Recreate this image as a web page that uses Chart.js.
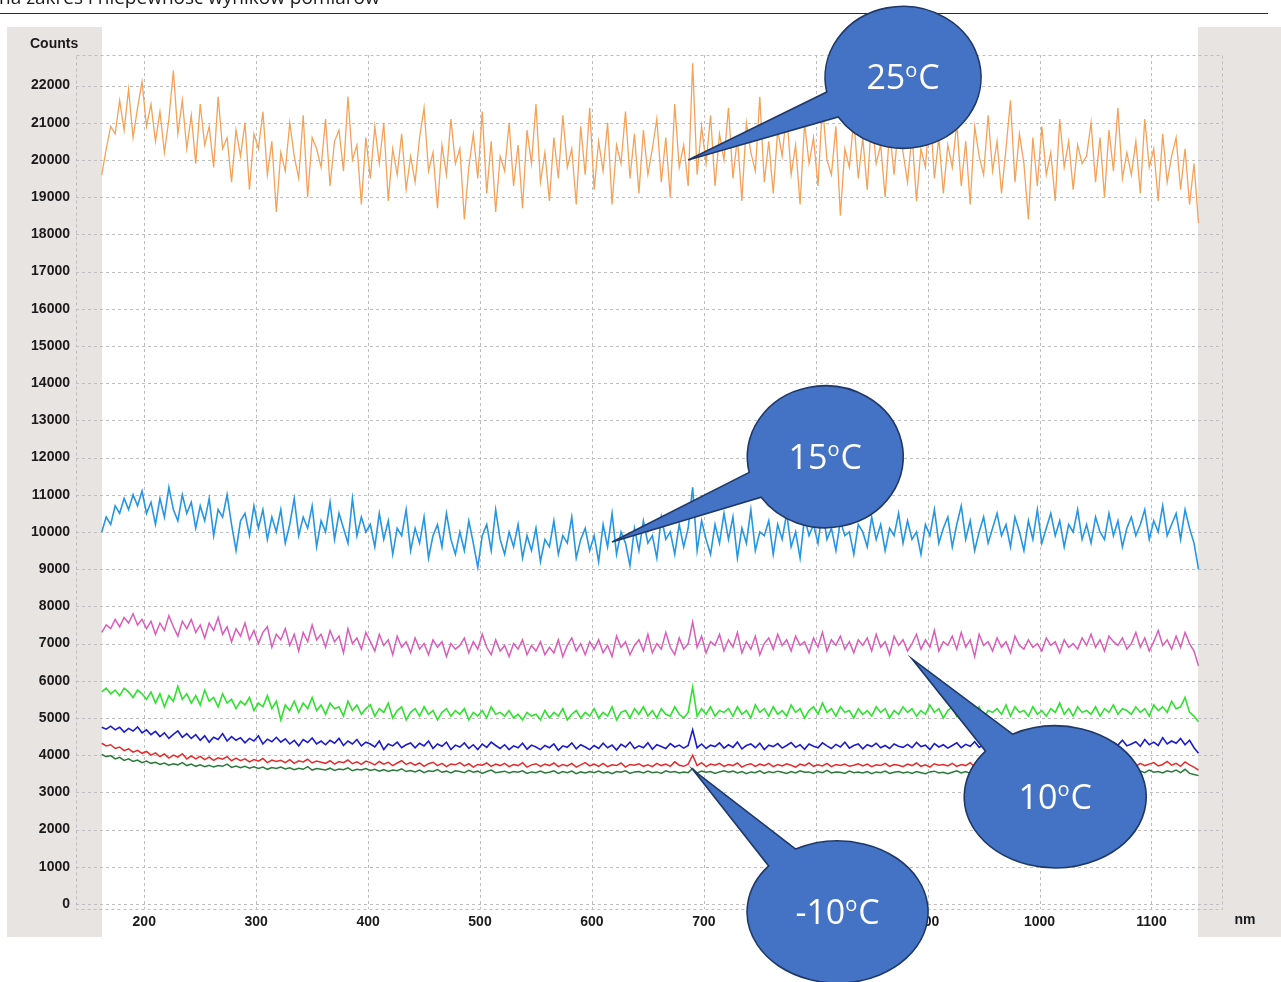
<!DOCTYPE html>
<html>
<head>
<meta charset="utf-8">
<script src="https://cdn.jsdelivr.net/npm/chart.js@4.4.1/dist/chart.umd.min.js"></script>
<style>
  html, body { margin: 0; padding: 0; background: #ffffff; overflow: hidden; }
  #wrap { position: relative; width: 1281px; height: 982px; }
</style>
</head>
<body>
<div id="wrap"><canvas id="c" width="1281" height="982"></canvas></div>
<script>
// Axis ticks
const xTicks = [200, 300, 400, 500, 600, 700, 800, 900, 1000, 1100];
const yTicks = [0, 1000, 2000, 3000, 4000, 5000, 6000, 7000, 8000, 9000, 10000,
  11000, 12000, 13000, 14000, 15000, 16000, 17000, 18000, 19000, 20000, 21000, 22000];

// Spectrometer sampling grid: first wavelength and spacing (nm)
const startNm = 162;
const stepNm = 4;

// Dark counts per wavelength sample, one array per detector temperature
const counts25C = [
  19600, 20300, 20900, 20700, 21600, 20800, 21900, 20600, 21400, 22100,
  20900, 21500, 20500, 21300, 20200, 21100, 22400, 20700, 21600, 20300,
  21200, 19900, 21500, 20400, 20900, 19800, 21700, 20300, 20600, 19400,
  20800, 20100, 21000, 19200, 20700, 20300, 21300, 19600, 20500, 18600,
  20200, 19700, 21000, 20100, 19500, 21200, 19000, 20600, 20300, 19800,
  21100, 19300, 20500, 20800, 19700, 21700, 20000, 20400, 18800, 20600,
  19500, 20900, 19900, 21000, 18900, 20300, 19600, 20700, 19200, 20100,
  19400, 20600, 21400, 19700, 20200, 18700, 20400, 19600, 21100, 19900,
  20300, 18400, 19800, 20700, 19500, 21300, 19100, 20500, 18600, 20100,
  19700, 21000, 19300, 20400, 18700, 20800, 19900, 21500, 19400, 20200,
  18900, 20600, 19500, 21200, 19800, 20300, 18800, 20900, 19600, 21400,
  19200, 20500, 19700, 21000, 18800, 20400, 19900, 21300, 19500, 20700,
  19100, 20800, 19600, 20300, 21100, 19400, 20600, 19000, 21500, 19800,
  20400, 19300, 22600, 19600, 20900, 19900, 21200, 19300, 20700, 20000,
  21400, 19500, 20600, 18900, 21000, 20200, 19700, 21700, 19400, 20500,
  19100, 20800, 20100, 21300, 19600, 20400, 18800, 21000, 19900, 20600,
  19300, 21500, 20000, 19600, 20900, 18500, 20300, 19800, 21100, 19500,
  20600, 19200, 21200, 19900, 20400, 19000, 20800, 19600, 21000, 20200,
  19400, 20700, 18900, 20300, 19800, 21400, 19500, 20600, 19100, 20400,
  19800, 21000, 19300, 20500, 18800, 20900, 20100, 19600, 21200, 19700,
  20500, 19100, 20300, 21600, 19400, 20700, 19900, 18400, 20600, 19300,
  20900, 19600, 20200, 18900, 21100, 19800, 20500, 19200, 20400, 19900,
  20100, 21000, 19400, 20600, 19000, 20800, 19700, 21400, 19500, 20200,
  19600, 20500, 19100, 21100, 19800, 20300, 18900, 20700, 19400, 20100,
  20600, 19200, 20300, 18800, 19900, 18300
];

const counts15C = [
  10000, 10400, 10200, 10700, 10500, 10900, 10600, 11000, 10700, 11100,
  10500, 10800, 10200, 10900, 10400, 11200, 10600, 10300, 11000, 10500,
  10800, 10100, 10700, 10300, 10900, 9900, 10600, 10400, 11000, 10200,
  9500, 10300, 10500, 9900, 10700, 10100, 10600, 9800, 10400, 10000,
  10600, 9700, 10200, 10900, 9900, 10400, 10100, 10700, 9600, 10300,
  10000, 10800, 9800, 10500, 10100, 9700, 10900, 9900, 10400, 10000,
  10200, 9600, 10500, 9800, 10300, 9400, 10100, 9900, 10600, 9500,
  10100, 9700, 10400, 9300, 9900, 10200, 9600, 10500, 9800, 9400,
  10000, 9500, 10300, 9700, 9050, 9900, 10200, 9500, 10600, 9800,
  9400, 10000, 9600, 10200, 9300, 9900, 9500, 10100, 9200, 9800,
  9600, 10300, 9400, 9900, 9700, 10400, 9300, 9800, 10100, 9500,
  9900, 9200, 10200, 9600, 10500, 9400, 10000, 9700, 9100, 10100,
  9500, 10300, 9700, 9900, 9300, 10400, 9800, 10000, 9400, 10200,
  9600, 10100, 11200, 9500, 10300, 9800, 9400, 10200, 9700, 10500,
  9800, 10400, 9300, 10100, 9700, 10600, 9500, 10000, 9900, 10300,
  9400, 10200, 9800, 10500, 9600, 10000, 9300, 10400, 9900, 10200,
  9700, 10600, 9800, 10100, 9500, 10300, 9900, 10000, 9400, 10200,
  10000, 9600, 10400, 9800, 10200, 9500, 10100, 9900, 10500, 9700,
  10300, 9800, 10000, 9400, 10200, 9900, 10600, 9700, 10100, 10400,
  9600, 10200, 10700, 9800, 10300, 9500, 10000, 10400, 9700, 10100,
  10500, 9900, 10200, 9600, 10400, 10000, 9500, 10300, 9800, 10600,
  9700, 10100, 10500, 9900, 10300, 9600, 10200, 10000, 10600, 9800,
  10200, 9700, 10400, 10000, 9800, 10500, 9900, 10300, 9600, 10100,
  10400, 9900, 10200, 10600, 9800, 10300, 10000, 10700, 9900, 10200,
  10500, 9800, 10600, 10100, 9700, 9000
];

const counts10C = [
  7300, 7500, 7400, 7650, 7450, 7700, 7550, 7800, 7500, 7650,
  7400, 7600, 7250, 7550, 7350, 7750, 7450, 7200, 7600, 7400,
  7650, 7300, 7500, 7150, 7550, 7350, 7700, 7250, 7450, 7050,
  7400, 7200, 7550, 7100, 7350, 7000, 7300, 7450, 6900, 7250,
  7100, 7400, 6950, 7250, 6800, 7300, 7050, 7500, 7100, 7250,
  6900, 7350, 7050, 7200, 6750, 7400, 7000, 7150, 6850, 7300,
  7050, 6800, 7250, 6950, 7100, 6700, 7200, 6900, 7050, 6750,
  7150, 6850, 7000, 6700, 7100, 6900, 7050, 6650, 7000, 6850,
  6950, 7150, 6750, 7050, 6850, 7250, 6900, 6700, 7100, 6800,
  6950, 6650, 7000, 6850, 7100, 6700, 6950, 6800, 7050, 6700,
  6900, 6750, 7100, 6650, 6950, 7150, 6800, 7000, 6700, 7050,
  6850, 7100, 6750, 6950, 6650, 7200, 6900, 7050, 6700, 6950,
  7100, 6800, 7250, 6750, 7000, 6850, 7300, 6900, 6700, 7150,
  6850, 7000, 7580, 6900, 7200, 6750, 7050, 6950, 7250, 6800,
  7100, 6900, 7300, 6750, 7050, 6850, 7200, 6700, 7000, 7150,
  6850, 7250, 6950, 7100, 6800, 7200, 6950, 7050, 6750, 7150,
  6900, 7300, 6800, 7100, 6950, 7200, 6850, 7050, 6750, 7100,
  6950, 7150, 6800, 7250, 6900, 7050, 6700, 7200, 6950, 7100,
  6800, 7000, 7250, 6850, 7100, 6900, 7350, 6800, 7050, 6950,
  7200, 6850, 7300, 6900, 7100, 6650, 7250, 6950, 7050, 6800,
  7150, 6900, 7050, 6750, 7200, 6950, 6850, 7100, 6900, 7000,
  6800, 7150, 6950, 7050, 6750, 7100, 6900, 7000, 6850, 7150,
  6950, 7250, 6900, 7100, 6800, 7200, 7050, 6950, 7150, 6850,
  7000, 7300, 6900, 7150, 6800, 7050, 7350, 6950, 7100, 6850,
  7200, 6900, 7300, 7000, 6800, 6400
];

const countsGreen = [
  5700, 5800, 5650, 5750, 5600, 5800, 5700, 5550, 5750, 5650,
  5500, 5700, 5400, 5650, 5300, 5600, 5450, 5850, 5500, 5650,
  5400, 5600, 5350, 5750, 5450, 5550, 5300, 5650, 5400, 5500,
  5250, 5450, 5350, 5550, 5200, 5400, 5300, 5600, 5250, 5450,
  4950, 5350, 5200, 5450, 5150, 5400, 5250, 5550, 5200, 5350,
  5100, 5400, 5250, 5300, 5050, 5450, 5200, 5350, 5100, 5250,
  5350, 5050, 5250, 5150, 5400, 5000, 5200, 5300, 4950, 5150,
  5250, 5050, 5300, 5100, 5200, 4950, 5150, 5250, 5050, 5200,
  5100, 5250, 4950, 5150, 5050, 5200, 5000, 5300, 5100, 5150,
  5050, 5200, 5000, 5100, 4950, 5150, 5050, 5100, 4950, 5200,
  5000, 5150, 5050, 5250, 4950, 5100, 5200, 5000, 5150, 5050,
  5250, 5000, 5150, 5050, 5300, 4950, 5150, 5200, 5000, 5250,
  5100, 5300, 5050, 5200, 5000, 5250, 5100, 5050, 5300, 5100,
  5000, 5150, 5830, 5050, 5250, 5100, 5300, 5050, 5200, 5150,
  5250, 5050, 5300, 5100, 5200, 5000, 5350, 5150, 5250, 5050,
  5300, 5100, 5200, 5050, 5350, 5150, 5250, 5000, 5200, 5300,
  5100, 5400, 5150, 5250, 5050, 5300, 5150, 5200, 5000, 5250,
  5100, 5200, 5050, 5300, 5150, 5250, 5000, 5200, 5100, 5300,
  5150, 5250, 5050, 5200, 5100, 5350, 5150, 5250, 5000, 5200,
  5300, 5050, 5400, 5150, 5250, 5100, 5300, 5000, 5200, 5150,
  5250, 5100, 5350, 5050, 5300, 5150, 5200, 5050, 5300, 5100,
  5200, 5050, 5250, 5150, 5400, 5100, 5250, 5050, 5300, 5150,
  5200, 5100, 5300, 5050, 5250, 5150, 5350, 5100, 5250, 5200,
  5100, 5300, 5150, 5250, 5050, 5350, 5200, 5300, 5150, 5450,
  5250, 5300, 5550, 5150, 5050, 4900
];

const countsBlue = [
  4750, 4700, 4780, 4680, 4750, 4620, 4720, 4650, 4760, 4600,
  4680, 4550, 4640, 4500, 4600, 4450, 4560, 4650, 4480, 4580,
  4450, 4550, 4400, 4520, 4350, 4480, 4420, 4580, 4380, 4500,
  4400, 4470, 4330, 4450, 4380, 4520, 4300, 4430, 4360, 4480,
  4350, 4440, 4300, 4400, 4250, 4420, 4340, 4460, 4300, 4380,
  4280, 4400, 4320, 4450, 4260, 4380, 4300, 4420, 4250, 4350,
  4300, 4220, 4380, 4150, 4300, 4250, 4350, 4200, 4280, 4330,
  4200, 4320, 4250, 4380, 4180, 4300, 4240, 4350, 4150, 4270,
  4220, 4330, 4180, 4280, 4150, 4300, 4210, 4350, 4260, 4180,
  4280, 4150, 4250, 4200, 4320, 4160, 4270, 4220, 4150, 4260,
  4200, 4300, 4130, 4250, 4210, 4330, 4170, 4280, 4220, 4150,
  4260, 4180, 4320, 4200, 4270, 4140, 4290, 4220, 4350, 4180,
  4250, 4200, 4330, 4160, 4280, 4230, 4180, 4310, 4220, 4270,
  4190, 4260, 4680, 4200, 4300, 4180, 4270, 4230, 4330, 4190,
  4280, 4210, 4350, 4170, 4260, 4300, 4200, 4320, 4150, 4270,
  4230, 4310, 4190, 4260, 4340, 4210, 4280, 4160, 4300, 4240,
  4200, 4330, 4250, 4180, 4290, 4220, 4350, 4190, 4260, 4300,
  4170, 4280, 4230, 4320, 4200, 4260, 4180, 4300, 4240, 4210,
  4290, 4200, 4340, 4230, 4270, 4150, 4310, 4220, 4280, 4190,
  4260, 4330, 4200, 4290, 4240, 4360, 4210, 4280, 4230, 4310,
  4200, 4270, 4340, 4220, 4300, 4180, 4260, 4320, 4240, 4290,
  4210, 4350, 4250, 4300, 4190, 4280, 4330, 4230, 4290, 4260,
  4320, 4220, 4380, 4260, 4300, 4200, 4340, 4270, 4400, 4250,
  4300, 4360, 4240, 4420, 4280, 4350, 4260, 4470, 4300, 4380,
  4320, 4450, 4280, 4400, 4200, 4050
];

const countsRed = [
  4320, 4250, 4280, 4180, 4220, 4120, 4170, 4080, 4130, 4050,
  4100, 4000, 4060, 3960, 4030, 3920, 4000, 3950, 4040, 3900,
  3980, 3900, 3970, 3880, 3950, 3860, 3930, 3890, 3960, 3850,
  3920, 3850, 3900, 3820, 3880, 3840, 3910, 3800, 3870, 3830,
  3860, 3800, 3880, 3780, 3850, 3820, 3890, 3790, 3840, 3810,
  3780, 3850, 3760, 3830, 3800, 3870, 3770, 3820, 3750, 3840,
  3800, 3740, 3830, 3760, 3810, 3720, 3790, 3850, 3750, 3800,
  3730, 3790, 3700, 3770, 3810, 3720, 3780, 3690, 3760, 3740,
  3800, 3710, 3770, 3680, 3750, 3730, 3790, 3700, 3760, 3720,
  3780, 3690, 3750, 3720, 3800, 3680, 3740, 3770, 3700, 3760,
  3720, 3790, 3690, 3750, 3710, 3780, 3680, 3740, 3800, 3710,
  3760, 3700, 3780, 3690, 3740, 3720, 3790, 3680, 3750, 3730,
  3770, 3700, 3740, 3690, 3780, 3720, 3760, 3700, 3820, 3730,
  3700, 3760, 4000, 3720, 3800, 3690, 3760, 3730, 3780, 3700,
  3750, 3720, 3790, 3680, 3740, 3770, 3700, 3760, 3720, 3780,
  3690, 3750, 3710, 3770, 3730, 3680, 3760, 3720, 3790, 3700,
  3740, 3710, 3780, 3690, 3750, 3720, 3760, 3700, 3730, 3770,
  3710, 3760, 3690, 3740, 3720, 3780, 3700, 3750, 3730, 3690,
  3760, 3720, 3790, 3700, 3740, 3680, 3770, 3730, 3750, 3710,
  3780, 3700, 3750, 3720, 3800, 3690, 3740, 3760, 3710, 3770,
  3720, 3760, 3690, 3740, 3780, 3710, 3750, 3700, 3770, 3730,
  3690, 3750, 3720, 3800, 3700, 3760, 3730, 3780, 3710, 3740,
  3770, 3700, 3750, 3730, 3790, 3710, 3760, 3690, 3740, 3720,
  3750, 3700, 3780, 3720, 3760, 3800, 3710, 3750, 3830, 3730,
  3780, 3700, 3820, 3740, 3680, 3600
];

const countsMinus10C = [
  4020, 3960, 3990, 3900, 3940, 3860, 3900, 3830, 3870, 3800,
  3840, 3780, 3810, 3750, 3790, 3730, 3770, 3740, 3800, 3720,
  3760, 3700, 3740, 3690, 3730, 3680, 3720, 3700, 3760, 3670,
  3710, 3660, 3700, 3650, 3690, 3640, 3680, 3620, 3670, 3640,
  3680, 3630, 3660, 3610, 3650, 3620, 3690, 3600, 3640, 3620,
  3600, 3650, 3590, 3630, 3610, 3660, 3580, 3620, 3600, 3640,
  3590, 3620, 3570, 3610, 3560, 3600, 3580, 3630, 3560, 3590,
  3550, 3600, 3530, 3580, 3560, 3610, 3540, 3570, 3520, 3580,
  3560, 3530, 3590, 3540, 3570, 3510, 3560, 3600, 3530, 3550,
  3570, 3520, 3560, 3540, 3580, 3510, 3550, 3530, 3570, 3520,
  3540, 3580, 3510, 3560, 3530, 3570, 3500, 3550, 3520, 3560,
  3530, 3570, 3520, 3550, 3500, 3560, 3540, 3580, 3510, 3550,
  3560, 3520, 3570, 3530, 3550, 3510, 3580, 3540, 3560, 3520,
  3550, 3530, 3640, 3520, 3570, 3540, 3560, 3510, 3550, 3580,
  3540, 3570, 3520, 3560, 3500, 3550, 3530, 3580, 3510, 3560,
  3530, 3570, 3540, 3510, 3560, 3520, 3580, 3540, 3550, 3510,
  3560, 3530, 3590, 3520, 3550, 3540, 3510, 3570, 3530, 3550,
  3520, 3560, 3500, 3550, 3530, 3570, 3510, 3540, 3560, 3520,
  3550, 3510, 3560, 3530, 3500, 3550, 3570, 3520, 3540, 3500,
  3540, 3580, 3520, 3560, 3510, 3550, 3530, 3570, 3500, 3540,
  3520, 3560, 3500, 3550, 3530, 3580, 3510, 3540, 3560, 3520,
  3550, 3510, 3570, 3530, 3560, 3500, 3540, 3580, 3520, 3550,
  3530, 3570, 3510, 3560, 3540, 3500, 3550, 3590, 3520, 3560,
  3540, 3510, 3570, 3530, 3600, 3540, 3560, 3520, 3580, 3550,
  3600, 3530, 3620, 3510, 3480, 3450
];

// Callout bubbles: tip and centre in data units (nm, counts)
const callouts = [
  { text: '25', tip: [686, 20000], center: [878, 22220], rx: 78, ry: 71 },
  { text: '15', tip: [618, 9730], center: [808.5, 12020], rx: 78, ry: 71 },
  { text: '10', tip: [886, 6590], center: [1014, 2880], rx: 91, ry: 71 },
  { text: '-10', tip: [690.5, 3600], center: [819.5, -215], rx: 90.5, ry: 71 }
];

const TICK_FONT = '"Liberation Sans", Arial, sans-serif';

function toPoints(arr) {
  return arr.map((v, i) => ({ x: startNm + i * stepNm, y: v }));
}

const seriesDefs = [
  { label: '25 °C', data: counts25C, color: '#F5A257', width: 1.3 },
  { label: '15 °C', data: counts15C, color: '#2597E2', width: 1.6 },
  { label: '10 °C', data: counts10C, color: '#DB5CBC', width: 1.5 },
  { label: 'green', data: countsGreen, color: '#2FE22F', width: 1.6 },
  { label: 'blue', data: countsBlue, color: '#1C1CCF', width: 1.6 },
  { label: 'red', data: countsRed, color: '#E52B2B', width: 1.5 },
  { label: '-10 °C', data: countsMinus10C, color: '#2C7A3A', width: 1.5 }
];

const lastNm = startNm + (counts25C.length - 1) * stepNm;

const backdrop = {
  id: 'backdrop',
  beforeDraw(chart) {
    const { ctx, scales: { x } } = chart;
    ctx.save();
    ctx.fillStyle = '#ffffff';
    ctx.fillRect(0, 0, chart.width, chart.height);
    // running page header and rule
    ctx.fillStyle = '#1a1a1a';
    ctx.font = '19px "Open Sans", "Liberation Sans", sans-serif';
    ctx.textBaseline = 'alphabetic';
    ctx.textAlign = 'left';
    ctx.fillText('na zakres i niepewność wyników pomiarów', -1, 4);
    ctx.strokeStyle = '#2a2a2a';
    ctx.lineWidth = 1.2;
    ctx.beginPath();
    ctx.moveTo(0, 13.5);
    ctx.lineTo(1268, 13.5);
    ctx.stroke();
    // instrument panel background, white where spectrum data exists
    ctx.fillStyle = '#E7E4E1';
    ctx.fillRect(7, 27, chart.width - 7, 910);
    const xa = Math.round(x.getPixelForValue(startNm));
    const xb = Math.round(x.getPixelForValue(lastNm));
    ctx.fillStyle = '#ffffff';
    ctx.fillRect(xa, 27, xb - xa, 910);
    ctx.restore();
  },
  beforeDatasetsDraw(chart) {
    const { ctx, chartArea: a, scales: { x, y } } = chart;
    ctx.save();
    ctx.strokeStyle = '#BEBEBE';
    ctx.lineWidth = 1;
    ctx.setLineDash([3, 3]);
    ctx.beginPath();
    yTicks.forEach(v => {
      const py = Math.round(y.getPixelForValue(v)) + 0.5;
      ctx.moveTo(a.left, py); ctx.lineTo(a.right, py);
    });
    xTicks.forEach(v => {
      const px = Math.round(x.getPixelForValue(v)) + 0.5;
      ctx.moveTo(px, a.top); ctx.lineTo(px, a.bottom);
    });
    ctx.stroke();
    ctx.strokeRect(a.left + 0.5, a.top + 0.5, a.right - a.left, a.bottom - a.top);
    ctx.setLineDash([]);
    // axis titles
    ctx.fillStyle = '#1a1a1a';
    ctx.font = 'bold 14px ' + TICK_FONT;
    ctx.textBaseline = 'middle';
    ctx.textAlign = 'left';
    ctx.fillText('Counts', 30, 44);
    ctx.textAlign = 'center';
    ctx.fillText('nm', 1245, 920);
    ctx.restore();
  },
  afterDraw(chart) {
    const { ctx, scales: { x, y } } = chart;
    const d = 11 * Math.PI / 180;
    ctx.save();
    callouts.forEach(c => {
      const cx = x.getPixelForValue(c.center[0]);
      const cy = y.getPixelForValue(c.center[1]);
      const tx = x.getPixelForValue(c.tip[0]);
      const ty = y.getPixelForValue(c.tip[1]);
      const ang = Math.atan2((ty - cy) / c.ry, (tx - cx) / c.rx);
      ctx.beginPath();
      ctx.moveTo(tx, ty);
      ctx.lineTo(cx + c.rx * Math.cos(ang + d), cy + c.ry * Math.sin(ang + d));
      ctx.ellipse(cx, cy, c.rx, c.ry, 0, ang + d, ang - d + 2 * Math.PI);
      ctx.closePath();
      ctx.fillStyle = '#4472C4';
      ctx.fill();
      ctx.lineWidth = 1.6;
      ctx.strokeStyle = '#1F3867';
      ctx.lineJoin = 'miter';
      ctx.stroke();

      // label: number, raised small "o", then C
      const big = '34px "Open Sans", "Liberation Sans", sans-serif';
      const small = '20px "Open Sans", "Liberation Sans", sans-serif';
      ctx.font = big;
      const w1 = ctx.measureText(c.text).width;
      const w3 = ctx.measureText('C').width;
      ctx.font = small;
      const w2 = ctx.measureText('o').width;
      const total = w1 + w2 + 1 + w3;
      let sx = cx - total / 2;
      ctx.fillStyle = '#ffffff';
      ctx.textAlign = 'left';
      ctx.textBaseline = 'alphabetic';
      ctx.font = big;
      ctx.fillText(c.text, sx, cy + 12);
      sx += w1;
      ctx.font = small;
      ctx.fillText('o', sx, cy - 0.5);
      sx += w2 + 1;
      ctx.font = big;
      ctx.fillText('C', sx, cy + 12);
    });
    ctx.restore();
  }
};

new Chart(document.getElementById('c'), {
  type: 'line',
  data: {
    datasets: seriesDefs.map(s => ({
      label: s.label,
      data: toPoints(s.data),
      borderColor: s.color,
      backgroundColor: s.color,
      borderWidth: s.width,
      pointRadius: 0,
      tension: 0,
      fill: false
    }))
  },
  options: {
    responsive: false,
    devicePixelRatio: 1,
    animation: false,
    events: [],
    layout: { padding: { left: 0, right: 59, top: 55, bottom: 0 } },
    plugins: { legend: { display: false }, tooltip: { enabled: false } },
    scales: {
      x: {
        type: 'linear',
        min: 139,
        max: 1163,
        afterBuildTicks: s => { s.ticks = xTicks.map(v => ({ value: v })); },
        afterFit: s => { s.height = 73; },
        grid: { display: false, drawTicks: false },
        border: { display: false },
        ticks: {
          padding: 5,
          maxRotation: 0,
          autoSkip: false,
          color: '#1a1a1a',
          font: { family: TICK_FONT, size: 14, weight: 'bold' },
          callback: v => String(v)
        }
      },
      y: {
        type: 'linear',
        min: -135,
        max: 22820,
        afterBuildTicks: s => { s.ticks = yTicks.map(v => ({ value: v })); },
        afterFit: s => { s.width = 76; },
        grid: { display: false, drawTicks: false },
        border: { display: false },
        ticks: {
          padding: 6,
          autoSkip: false,
          color: '#1a1a1a',
          font: { family: TICK_FONT, size: 14, weight: 'bold' },
          callback: v => String(v)
        }
      }
    }
  },
  plugins: [backdrop]
});
</script>
</body>
</html>
